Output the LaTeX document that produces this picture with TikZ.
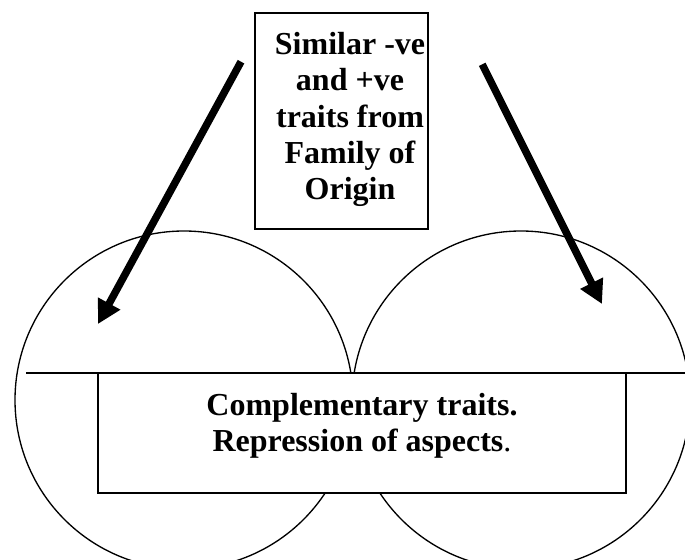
\documentclass[tikz,border=0pt]{standalone}
\usepackage{fontspec}
\setmainfont{Liberation Serif}
\usetikzlibrary{arrows.meta}
\newcommand\mytightlines{\lineskiplimit=-100pt\relax}
\begin{document}
\begin{tikzpicture}[x=0.75pt,y=-0.75pt,
  ring/.style={draw=black,line width=1pt},
  boxline/.style={draw=black,line width=1.1pt,fill=white,inner sep=0pt},
  boxtext/.style={align=center,inner sep=0pt,
    font={\bfseries\fontsize{24pt}{27.2pt}\selectfont\mytightlines}},
  boxtextb/.style={align=center,inner sep=0pt,
    font={\bfseries\fontsize{24pt}{26.6pt}\selectfont\mytightlines}},
  bigarrow/.style={draw=black,line width=5.6pt,-{Triangle[length=17.5pt,width=18pt]}}]
\useasboundingbox (0,0) rectangle (685,560);
\clip (0,0) rectangle (685,560);
% two circles
\draw[ring] (184,400) circle[radius=169];
\draw[ring] (521,400) circle[radius=169];
% horizontal line
\coordinate (hl) at (26,373);
\coordinate (hr) at (690,373);
\draw[ring] (hl) -- (hr);
% bottom box
\node[boxline,minimum width=396pt,minimum height=90pt] (compbox) at (362,433) {};
\node[boxtextb] (comp) at (362,426) {Complementary traits.\\Repression of aspects\textmd{.}};
% top box
\node[boxline,minimum width=129.75pt,minimum height=162pt] (originbox) at (341.5,121) {};
\node[boxtext] (origin) at (350,119.5) {Similar -ve\\and +ve\\traits from\\Family of\\Origin};
% arrows
\coordinate (lt) at (241,61.7);
\coordinate (lh) at (98,324);
\coordinate (rt) at (482.2,64.3);
\coordinate (rh) at (602,304);
\draw[bigarrow] (lt) -- (lh);
\draw[bigarrow] (rt) -- (rh);
\end{tikzpicture}
\end{document}
